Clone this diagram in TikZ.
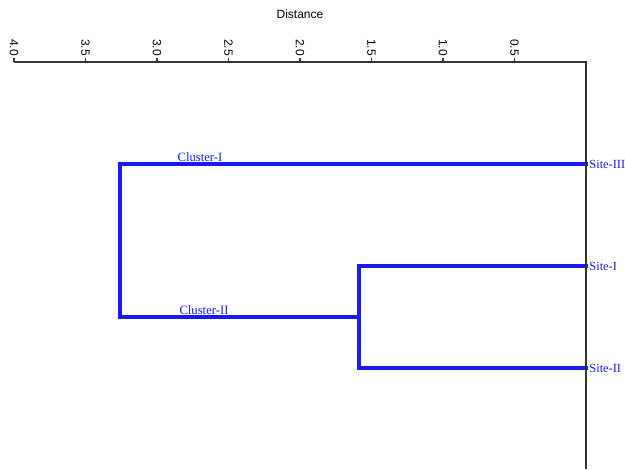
\documentclass[tikz,border=0pt]{standalone}
\usepackage{fontspec}
\setmainfont{Liberation Serif}
\newfontfamily\axisfont{Liberation Sans}
\definecolor{treeblue}{RGB}{25,25,240}
\begin{document}
\begin{tikzpicture}[x=0.75pt,y=-0.75pt,
  branch/.style={draw=treeblue,line width=2.3pt,line cap=rect},
  axisline/.style={draw=black!80,line width=1.1pt},
  ticklab/.style={font=\axisfont\fontsize{9}{10}\selectfont,rotate=-90,anchor=east,inner sep=1pt},
  leaflab/.style={font=\fontsize{9.3}{11}\selectfont,text=treeblue,anchor=west,inner sep=0.5pt},
  clulab/.style={font=\fontsize{9.5}{11}\selectfont,text=treeblue,anchor=south,inner sep=1pt}]
\useasboundingbox (0,0) rectangle (625,469);
% leaves
\coordinate (s3) at (586,164);
\coordinate (s1) at (586,266);
\coordinate (s2) at (586,368);
\node[leaflab] (l3) at (588.5,164) {Site-III};
\node[leaflab] (l1) at (588.5,266) {Site-I};
\node[leaflab] (l2) at (588.5,368) {Site-II};
% internal nodes
\coordinate (c2) at (359,317);
\coordinate (c2t) at (359,266);
\coordinate (c2b) at (359,368);
\coordinate (c1t) at (120,164);
\coordinate (c1b) at (120,317);
\draw[branch] (s1) -- (c2t) -- (c2b) -- (s2);
\draw[branch] (s3) -- (c1t) -- (c1b) -- (c2);
\node[clulab] (k1) at (200,163) {Cluster-I};
\node[clulab] (k2) at (204,316) {Cluster-II};
% axis
\node[font=\axisfont\fontsize{9}{11}\selectfont] (title) at (300,14) {Distance};
\coordinate (axL) at (14,62);
\coordinate (axR) at (586,62);
\coordinate (axB) at (586,469);
\draw[axisline] (axL) -- (axR) -- (axB);
\foreach \v/\lab [count=\i] in {4/4.0,3.5/3.5,3/3.0,2.5/2.5,2/2.0,1.5/1.5,1/1.0,0.5/0.5}{
  \coordinate (tick\i) at ({586-143*\v},62);
  \draw[axisline] (tick\i) -- ++(0,-4) node[ticklab] (tl\i) {\lab};
}
\end{tikzpicture}
\end{document}
